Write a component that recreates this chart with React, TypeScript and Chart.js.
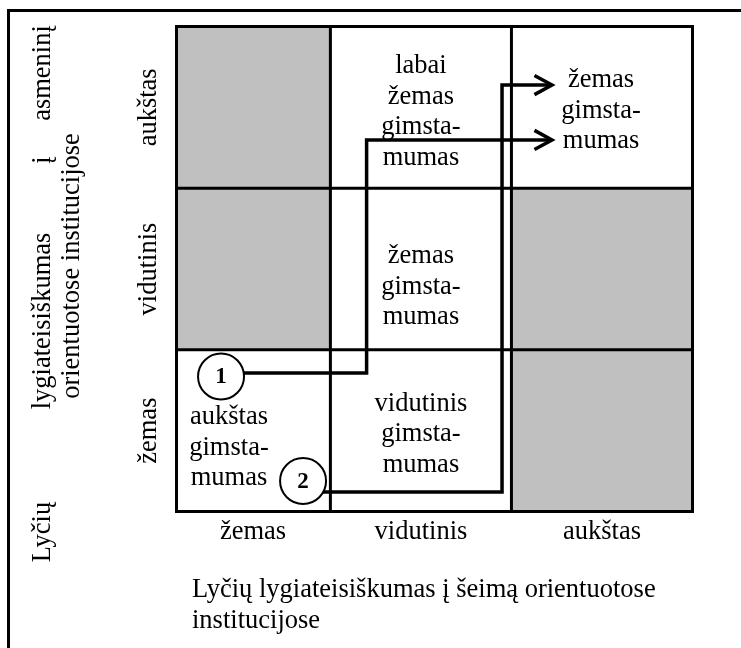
import React, { useEffect, useRef } from "react";
import { Chart, registerables } from "chart.js";

Chart.register(...registerables);

const W = 741;
const H = 648;
const FONT = "'Liberation Serif', 'Times New Roman', serif";
const FS = 26.5;

// Axis categories
const colLabels = ["žemas", "vidutinis", "aukštas"];
const rowLabels = ["žemas", "vidutinis", "aukštas"]; // bottom to top
const colEdges = [0.15, 1, 2, 3];
const rowEdges = [0, 1, 2, 3];
const colCenters = [0.5725, 1.5, 2.5];
const rowCenters = [0.5, 1.5, 2.5];

// shaded (empty) cells: [column index, row index]
const shadedCells = [
  [0, 2],
  [0, 1],
  [2, 1],
  [2, 0],
];

// cell annotations
const cellTextX = [1.5, 2.495, 1.5, 1.5, 0.44];
const cellTextY = [2.47, 2.479, 1.39, 0.476, 0.393];
const cellTextLines = [
  ["labai", "žemas", "gimsta-", "mumas"],
  ["žemas", "gimsta-", "mumas"],
  ["žemas", "gimsta-", "mumas"],
  ["vidutinis", "gimsta-", "mumas"],
  ["aukštas", "gimsta-", "mumas"],
];

// trajectories
const path1X = [0.396, 1.2, 1.2, 2.224];
const path1Y = [0.857, 0.857, 2.298, 2.298];
const path2X = [0.849, 1.948, 1.948, 2.224];
const path2Y = [0.121, 0.121, 2.638, 2.638];

// numbered markers
const markerX = [0.396, 0.849];
const markerY = [0.835, 0.189];
const markerLabels = ["1", "2"];

// titles
const xTitleLines = ["Lyčių lygiateisiškumas į šeimą orientuotose", "institucijose"];
const yTitleWords = ["Lyčių", "lygiateisiškumas", "į", "asmeninį"];
const yTitleLine2 = "orientuotose institucijose";
// vertical centre (px) of each word of the rotated title's first line
const yTitleWordCentres = [532, 321, 160, 73];

const diagramPlugin = {
  id: "diagram",
  beforeDatasetsDraw(chart: any) {
    const { ctx } = chart;
    const xs = chart.scales.x;
    const ys = chart.scales.y;
    ctx.save();

    // outer frame
    ctx.strokeStyle = "#000";
    ctx.lineWidth = 3;
    ctx.beginPath();
    ctx.moveTo(8.5, H + 10);
    ctx.lineTo(8.5, 10.5);
    ctx.lineTo(W + 10, 10.5);
    ctx.stroke();

    // shaded cells
    ctx.fillStyle = "#c0c0c0";
    shadedCells.forEach(([c, r]) => {
      const x0 = xs.getPixelForValue(colEdges[c]);
      const x1 = xs.getPixelForValue(colEdges[c + 1]);
      const y0 = ys.getPixelForValue(rowEdges[r + 1]);
      const y1 = ys.getPixelForValue(rowEdges[r]);
      ctx.fillRect(x0, y0, x1 - x0, y1 - y0);
    });

    // grid lines
    const left = xs.getPixelForValue(colEdges[0]);
    const right = xs.getPixelForValue(colEdges[colEdges.length - 1]);
    const top = ys.getPixelForValue(rowEdges[rowEdges.length - 1]);
    const bottom = ys.getPixelForValue(rowEdges[0]);
    ctx.strokeStyle = "#000";
    ctx.lineWidth = 3;
    ctx.lineCap = "square";
    colEdges.forEach((v) => {
      const px = xs.getPixelForValue(v);
      ctx.beginPath();
      ctx.moveTo(px, top);
      ctx.lineTo(px, bottom);
      ctx.stroke();
    });
    rowEdges.forEach((v) => {
      const py = ys.getPixelForValue(v);
      ctx.beginPath();
      ctx.moveTo(left, py);
      ctx.lineTo(right, py);
      ctx.stroke();
    });

    // cell texts
    ctx.fillStyle = "#000";
    ctx.font = `${FS}px ${FONT}`;
    ctx.textAlign = "center";
    ctx.textBaseline = "middle";
    const lh = 30.5;
    cellTextLines.forEach((lines, i) => {
      const cx = xs.getPixelForValue(cellTextX[i]);
      const cy = ys.getPixelForValue(cellTextY[i]);
      const y0 = cy - ((lines.length - 1) * lh) / 2;
      lines.forEach((t, j) => ctx.fillText(t, cx, y0 + j * lh));
    });

    // y category labels (rotated)
    rowLabels.forEach((t, i) => {
      ctx.save();
      ctx.translate(149, ys.getPixelForValue(rowCenters[i]));
      ctx.rotate(-Math.PI / 2);
      ctx.fillText(t, 0, 0);
      ctx.restore();
    });

    // y title
    yTitleWords.forEach((w, i) => {
      ctx.save();
      ctx.translate(43, yTitleWordCentres[i]);
      ctx.rotate(-Math.PI / 2);
      ctx.fillText(w, 0, 0);
      ctx.restore();
    });
    ctx.save();
    ctx.translate(72, 266);
    ctx.rotate(-Math.PI / 2);
    ctx.fillText(yTitleLine2, 0, 0);
    ctx.restore();

    // x title
    ctx.textAlign = "left";
    xTitleLines.forEach((t, i) => ctx.fillText(t, 192, 590 + i * 31));

    ctx.restore();
  },
  afterDatasetsDraw(chart: any) {
    const { ctx } = chart;
    ctx.save();
    ctx.strokeStyle = "#000";
    ctx.lineWidth = 3.5;
    ctx.lineJoin = "miter";
    ctx.lineCap = "butt";
    [1, 2].forEach((di) => {
      const pts = chart.getDatasetMeta(di).data;
      const a = pts[pts.length - 2];
      const b = pts[pts.length - 1];
      const ang = Math.atan2(b.y - a.y, b.x - a.x);
      const len = 20;
      const spread = 0.5;
      ctx.beginPath();
      ctx.moveTo(b.x - len * Math.cos(ang - spread), b.y - len * Math.sin(ang - spread));
      ctx.lineTo(b.x, b.y);
      ctx.lineTo(b.x - len * Math.cos(ang + spread), b.y - len * Math.sin(ang + spread));
      ctx.stroke();
    });
    // numbers in markers
    const mpts = chart.getDatasetMeta(0).data;
    ctx.fillStyle = "#000";
    ctx.font = `bold 23px ${FONT}`;
    ctx.textAlign = "center";
    ctx.textBaseline = "middle";
    mpts.forEach((p: any, i: number) => ctx.fillText(markerLabels[i], p.x, p.y + 1));
    ctx.restore();
  },
};

export default function App() {
  const ref = useRef<HTMLCanvasElement>(null);
  useEffect(() => {
    let chart: Chart | null = null;
    let cancelled = false;
    const build = () => {
      if (cancelled || !ref.current) return;
      Chart.defaults.font.family = FONT;
      chart = new Chart(ref.current, {
        type: "scatter",
        data: {
          datasets: [
            {
              type: "scatter",
              label: "markers",
              data: markerX.map((x, i) => ({ x, y: markerY[i] })),
              pointRadius: 23,
              pointHoverRadius: 23,
              pointBackgroundColor: "#fff",
              pointBorderColor: "#000",
              pointBorderWidth: 2,
              pointHoverBorderWidth: 2,
              clip: false,
            } as any,
            {
              type: "line",
              label: "trajectory 1",
              data: path1X.map((x, i) => ({ x, y: path1Y[i] })),
              borderColor: "#000",
              borderWidth: 3.5,
              pointRadius: 0,
              pointHoverRadius: 0,
              tension: 0,
              fill: false,
              borderJoinStyle: "miter",
              borderCapStyle: "butt",
              clip: false,
            } as any,
            {
              type: "line",
              label: "trajectory 2",
              data: path2X.map((x, i) => ({ x, y: path2Y[i] })),
              borderColor: "#000",
              borderWidth: 3.5,
              pointRadius: 0,
              pointHoverRadius: 0,
              tension: 0,
              fill: false,
              borderJoinStyle: "miter",
              borderCapStyle: "butt",
              clip: false,
            } as any,
          ],
        },
        options: {
          animation: false,
          responsive: false,
          devicePixelRatio: 1,
          events: [],
          layout: { padding: { left: 176.5, top: 26.5, right: 48.5, bottom: 0 } },
          plugins: { legend: { display: false }, tooltip: { enabled: false } },
          scales: {
            x: {
              type: "linear",
              min: colEdges[0],
              max: colEdges[colEdges.length - 1],
              position: "bottom",
              grid: { display: false, drawTicks: false, tickLength: 0 },
              border: { display: false },
              afterBuildTicks: (s: any) => {
                s.ticks = colCenters.map((v) => ({ value: v }));
              },
              afterFit: (s: any) => {
                s.height = 136.5;
              },
              ticks: {
                autoSkip: false,
                maxRotation: 0,
                minRotation: 0,
                padding: 5,
                color: "#000",
                font: { size: FS, family: FONT },
                callback: (_v: any, i: number) => colLabels[i],
              },
            },
            y: {
              type: "linear",
              min: rowEdges[0],
              max: rowEdges[rowEdges.length - 1],
              display: false,
            },
          },
        } as any,
        plugins: [diagramPlugin],
      });
    };
    const fonts: any = (document as any).fonts;
    if (fonts && fonts.load) {
      Promise.all([
        fonts.load(`${FS}px 'Liberation Serif'`),
        fonts.load(`bold 23px 'Liberation Serif'`),
      ])
        .catch(() => null)
        .then(build);
    } else {
      build();
    }
    return () => {
      cancelled = true;
      if (chart) chart.destroy();
    };
  }, []);
  return (
    <div style={{ position: "fixed", left: 0, top: 0, width: W, height: H, background: "#fff" }}>
      <canvas ref={ref} width={W} height={H} style={{ display: "block" }} />
    </div>
  );
}
